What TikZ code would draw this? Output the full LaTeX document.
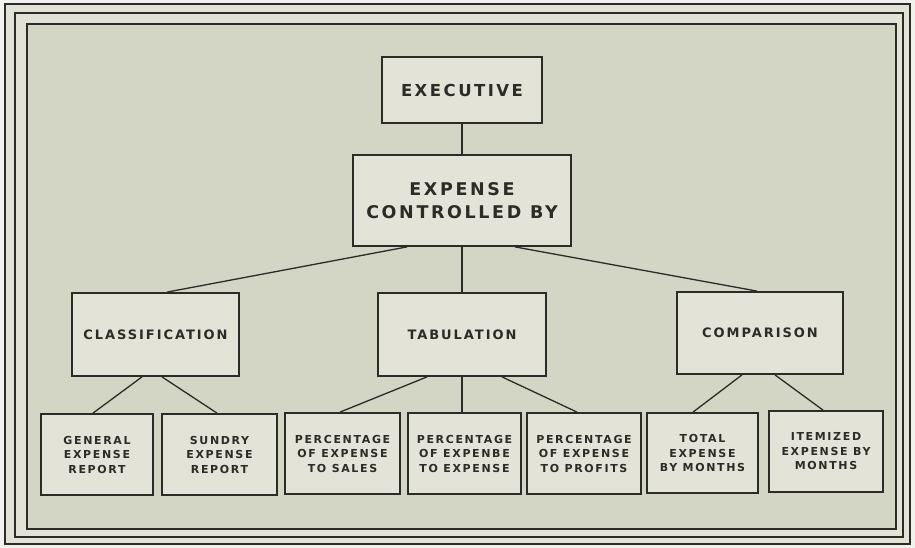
\documentclass[tikz,border=0pt]{standalone}
\usepackage{fontspec}
\setmainfont{DejaVu Sans}
\newfontfamily\lblfont{DejaVu Sans}[LetterSpace=15]
\definecolor{ink}{HTML}{2B2B27}
\definecolor{paper}{HTML}{F2F2EC}
\definecolor{band}{HTML}{E2E3D6}
\definecolor{field}{HTML}{D3D5C5}
\definecolor{boxfill}{HTML}{E3E4D7}
\tikzset{
  box/.style={draw=ink, line width=1.8pt, fill=boxfill, align=center, inner sep=0pt, text=ink},
  topbox/.style={box, font=\lblfont\bfseries\fontsize{16.5}{23}\selectfont},
  bigbox/.style={box, font=\lblfont\bfseries\fontsize{17.5}{23}\selectfont},
  midbox/.style={box, font=\lblfont\bfseries\fontsize{13}{18}\selectfont},
  lowbox/.style={box, font=\lblfont\bfseries\fontsize{11}{14.5}\selectfont},
  link/.style={draw=ink, line width=1.3pt},
  frameline/.style={draw=ink, line width=1.8pt}
}
\begin{document}
\begin{tikzpicture}[x=1pt, y=-1pt]
\useasboundingbox (0,0) rectangle (915,548);
\fill[paper] (0,0) rectangle (915,548);
\fill[band] (5,4) rectangle (910,544);
\fill[field] (27,24) rectangle (896,529);
\draw[frameline] (5,4) rectangle (910,544);
\draw[frameline] (15,13) rectangle (903,537);
\draw[frameline] (27,24) rectangle (896,529);

\node[topbox, minimum width=160, minimum height=66] (exec) at (462,90) {EXECUTIVE};
\node[bigbox, minimum width=218, minimum height=91] (expense) at (462,200.5) {EXPENSE\\CONTROLLED BY};

\node[midbox, minimum width=167, minimum height=83] (class) at (155.5,334.5) {CLASSIFICATION};
\node[midbox, minimum width=168, minimum height=83] (tab) at (462,334.5) {TABULATION};
\node[midbox, minimum width=166, minimum height=82] (comp) at (760,333) {COMPARISON};

\node[lowbox, minimum width=112, minimum height=81] (gen) at (97,454.5) {GENERAL\\EXPENSE\\REPORT};
\node[lowbox, minimum width=115, minimum height=81] (sun) at (219.5,454.5) {SUNDRY\\EXPENSE\\REPORT};
\node[lowbox, minimum width=115, minimum height=81] (ps) at (342.5,453.5) {PERCENTAGE\\OF EXPENSE\\TO SALES};
\node[lowbox, minimum width=113, minimum height=81] (pe) at (464.5,453.5) {PERCENTAGE\\OF EXPENBE\\TO EXPENSE};
\node[lowbox, minimum width=114, minimum height=81] (pp) at (584,453.5) {PERCENTAGE\\OF EXPENSE\\TO PROFITS};
\node[lowbox, minimum width=111, minimum height=80] (tot) at (702.5,453) {TOTAL\\EXPENSE\\BY MONTHS};
\node[lowbox, minimum width=114, minimum height=81] (itm) at (826,451.5) {ITEMIZED\\EXPENSE BY\\MONTHS};

\draw[link] (exec.south) -- (expense.north);
\draw[link] ([xshift=-55pt]expense.south) -- ([xshift=11.5pt]class.north);
\draw[link] (expense.south) -- (expense.south |- tab.north);
\draw[link] ([xshift=53pt]expense.south) -- ([xshift=-3pt]comp.north);

\draw[link] ([xshift=-13.5pt]class.south) -- ([xshift=-4pt]gen.north);
\draw[link] ([xshift=6.5pt]class.south) -- ([xshift=-2.5pt]sun.north);
\draw[link] ([xshift=-35pt]tab.south) -- ([xshift=-2.5pt]ps.north);
\draw[link] (tab.south) -- (tab.south |- pe.north);
\draw[link] ([xshift=40pt]tab.south) -- ([xshift=-7pt]pp.north);
\draw[link] ([xshift=-18pt]comp.south) -- ([xshift=-9.5pt]tot.north);
\draw[link] ([xshift=15pt]comp.south) -- ([xshift=-3pt]itm.north);
\end{tikzpicture}
\end{document}
